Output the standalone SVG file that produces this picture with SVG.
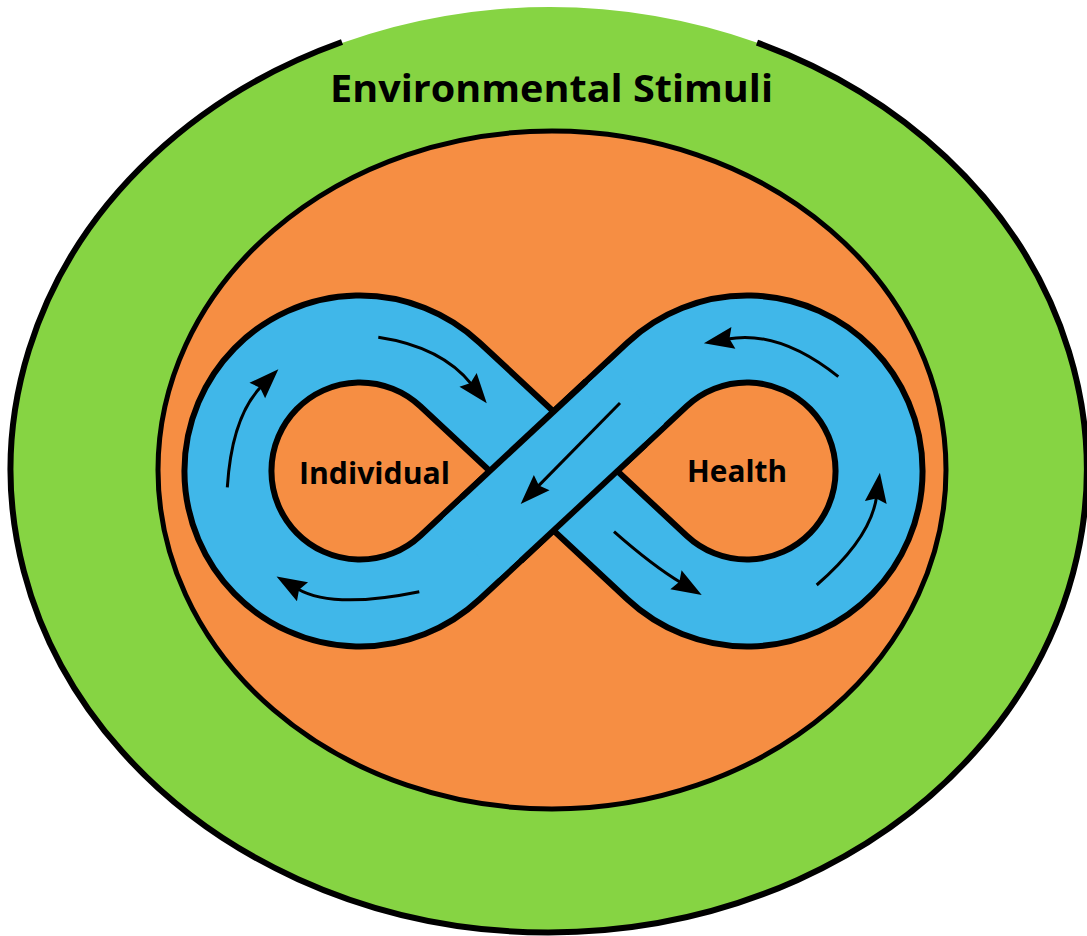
<svg xmlns="http://www.w3.org/2000/svg" width="1087" height="936" viewBox="0 0 1087 936">
<style>
.txt{font-family:"Open Sans","Liberation Sans",sans-serif;font-weight:bold;fill:#000}
.arrow{fill:none;stroke:#000;stroke-width:3;marker-end:url(#ah)}
.band-edge{fill:none;stroke:#000;stroke-width:93}
.band-fill{fill:none;stroke:#40B7E9;stroke-width:81}
</style>
<defs>
<marker id="ah" markerUnits="userSpaceOnUse" viewBox="0 -11 30 22" markerWidth="30" markerHeight="22" refX="6" refY="0" orient="auto" overflow="visible">
<path d="M0,-11 L30,0 L0,11 L4,0 Z" fill="#000"/>
</marker>
<path id="loop" d="M450,567.5 L657,374.5 A132,132 0 1 1 657,567.5 L450,374.5 A132,132 0 1 0 450,567.5 Z"/>
</defs>
<rect width="1087" height="936" fill="#fff"/>
<g id="environmental-stimuli">
<ellipse cx="550" cy="470" rx="538" ry="463" fill="#86D443"/>
<path d="M757,42.6 A538,463 0 1 1 342,42" fill="none" stroke="#000" stroke-width="6"/>
<text class="txt" x="330" y="102" font-size="37" textLength="443" lengthAdjust="spacingAndGlyphs">Environmental Stimuli</text>
</g>
<g id="person-sphere">
<ellipse cx="552" cy="470" rx="394" ry="339" fill="#F68E43" stroke="#000" stroke-width="5"/>
</g>
<g id="infinity-loop">
<use href="#loop" class="band-edge"/>
<use href="#loop" class="band-fill"/>
<path class="band-edge" d="M491.4,528.9 L615.6,413.1"/>
<path class="band-fill" d="M470.7,548.2 L636.3,394.2"/>
</g>
<g id="individual">
<text class="txt" x="299" y="484" font-size="31" textLength="151" lengthAdjust="spacingAndGlyphs">Individual</text>
</g>
<g id="health">
<text class="txt" x="687" y="482" font-size="31" textLength="100" lengthAdjust="spacingAndGlyphs">Health</text>
</g>
<g id="connectors">
<path class="arrow" d="M378.3,337.3 Q441.7,346.8 471.8,384.6"/>
<path class="arrow" d="M227.3,487.3 Q231.8,416.4 261.5,386.3"/>
<path class="arrow" d="M419.3,591.7 Q332.8,609.4 297.3,588.7"/>
<path class="arrow" d="M838.3,376.7 Q779,329.5 727.5,339"/>
<path class="arrow" d="M816.7,585 Q870.8,538.2 876.6,496.5"/>
<path class="arrow" d="M614,531.7 Q653.2,566.2 681.1,582.8"/>
<path class="arrow" d="M620,403 L537.5,486.9"/>
</g>
</svg>
